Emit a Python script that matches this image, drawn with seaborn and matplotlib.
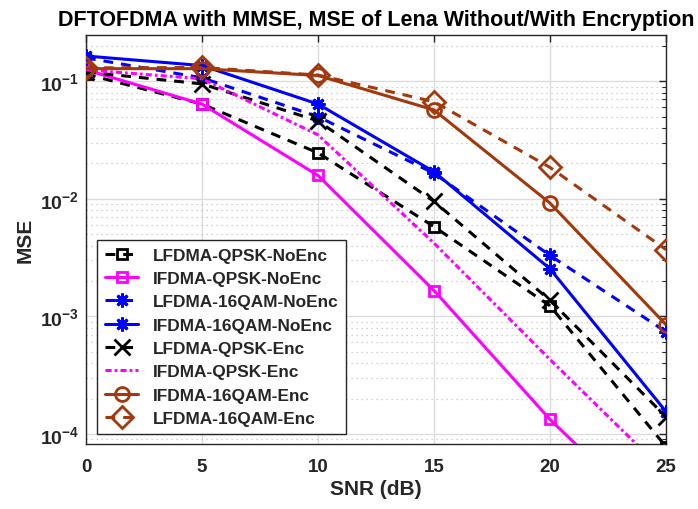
import numpy as np
import pandas as pd
import matplotlib
matplotlib.use("Agg")
import matplotlib.pyplot as plt
import seaborn as sns
from matplotlib.ticker import LogLocator, FixedLocator, NullFormatter, FuncFormatter

# ---------------- data ----------------
snr = [0, 5, 10, 15, 20, 25]
lf_qpsk_noenc = [0.115, 0.064, 0.0246, 0.0058, 0.00123, 7.8e-5]
if_qpsk_noenc = [0.125, 0.064, 0.0158, 0.00166, 1.33e-4, 1.5e-5]
lf_16qam_noenc = [0.158, 0.107, 0.050, 0.0165, 0.0033, 7.4e-4]
if_16qam_noenc = [0.164, 0.136, 0.064, 0.0170, 0.00254, 1.55e-4]
lf_qpsk_enc = [0.120, 0.095, 0.046, 0.0095, 0.00137, 1.4e-4]
if_qpsk_enc = [0.125, 0.105, 0.035, 0.0042, 4.3e-4, 4.65e-5]
if_16qam_enc = [0.128, 0.128, 0.112, 0.057, 0.0092, 8.5e-4]
lf_16qam_enc = [0.130, 0.131, 0.113, 0.067, 0.0185, 0.0037]

labels = ["LFDMA-QPSK-NoEnc", "IFDMA-QPSK-NoEnc", "LFDMA-16QAM-NoEnc",
          "IFDMA-16QAM-NoEnc", "LFDMA-QPSK-Enc", "IFDMA-QPSK-Enc",
          "IFDMA-16QAM-Enc", "LFDMA-16QAM-Enc"]
series = [lf_qpsk_noenc, if_qpsk_noenc, lf_16qam_noenc, if_16qam_noenc,
          lf_qpsk_enc, if_qpsk_enc, if_16qam_enc, lf_16qam_enc]

BROWN = "#a2380c"
styles = [
    dict(color="black", ls=(0, (3.2, 2.6)), marker="s", ms=7.5, mfc="none"),
    dict(color="#ff00ff", ls="-", marker="s", ms=7.5, mfc="none"),
    dict(color="#0000ff", ls=(0, (3.2, 2.6)), marker=(8, 2, 0), ms=10, mfc="none"),
    dict(color="#0000ff", ls="-", marker=(8, 2, 0), ms=10, mfc="none"),
    dict(color="black", ls=(0, (3.2, 2.6)), marker="x", ms=11, mfc="none"),
    dict(color="#ff00ff", ls=(0, (2.0, 1.0, 0.9, 1.0)), marker=None, ms=0, mfc="none"),
    dict(color=BROWN, ls="-", marker="o", ms=10, mfc="none"),
    dict(color=BROWN, ls=(0, (3.2, 2.6)), marker="D", ms=11, mfc="none"),
]

df = pd.DataFrame({"snr": np.tile(snr, len(labels)),
                   "mse": np.concatenate(series),
                   "label": np.repeat(labels, len(snr))})

sns.set_theme(style="white")
plt.rcParams["font.family"] = ["Liberation Sans", "DejaVu Sans"]
plt.rcParams["font.weight"] = "bold"
plt.rcParams["mathtext.fontset"] = "custom"
plt.rcParams["mathtext.rm"] = "Liberation Sans:bold"
plt.rcParams["mathtext.bf"] = "Liberation Sans:bold"
plt.rcParams["mathtext.it"] = "Liberation Sans:bold"
plt.rcParams["mathtext.default"] = "bf"

fig = plt.figure(figsize=(6.98, 5.10), dpi=100)
ax = fig.add_axes([86/698, 1 - 445.3/510, (666-86)/698, (445.3-35.7)/510])

for lab, st in zip(labels, styles):
    sub = df[df["label"] == lab]
    sns.lineplot(data=sub, x="snr", y="mse", ax=ax, color=st["color"],
                 linestyle=st["ls"], linewidth=2.2, marker=st["marker"],
                 markersize=st["ms"], markerfacecolor=st["mfc"],
                 markeredgecolor=st["color"], markeredgewidth=2.0,
                 label=lab, legend=False, zorder=3)

ax.set_yscale("log")
ax.set_xlim(0, 25)
ax.set_ylim(8.17e-5, 0.249)
ax.xaxis.set_major_locator(FixedLocator(snr))
ax.yaxis.set_major_locator(LogLocator(base=10, numticks=10))
ax.yaxis.set_minor_locator(LogLocator(base=10, subs=np.arange(2, 10), numticks=20))
ax.yaxis.set_minor_formatter(NullFormatter())
ax.yaxis.set_major_formatter(FuncFormatter(lambda v, p: r"$10^{%d}$" % int(round(np.log10(v)))))

ax.grid(True, which="major", color="#dcdcdc", linewidth=1.0, linestyle="-", zorder=0)
ax.grid(True, which="minor", axis="y", color="#c4c4c4", linewidth=0.9, linestyle=(0, (1, 3)), zorder=0)
ax.set_axisbelow(True)

for sp in ax.spines.values():
    sp.set_color("#262626")
    sp.set_linewidth(1.0)
ax.tick_params(axis="both", which="both", direction="in", top=True, right=True,
               colors="#262626", labelcolor="#262626")
ax.tick_params(axis="x", which="major", length=5, labelsize=13.5, width=1.0, pad=10)
ax.tick_params(axis="y", which="major", length=5, labelsize=14, width=1.0, pad=5)
ax.tick_params(axis="y", which="minor", length=3, width=0.8)
for t in ax.get_xticklabels() + ax.get_yticklabels():
    t.set_fontweight("bold")

ax.set_xlabel("SNR (dB)", fontsize=15, fontweight="bold", color="#262626", labelpad=3)
ax.set_ylabel("MSE", fontsize=15, fontweight="bold", color="#262626", labelpad=4)
ax.set_title("DFTOFDMA with MMSE, MSE of Lena Without/With Encryption",
             fontsize=15.5, fontweight="bold", color="black", pad=7)

leg = ax.legend(loc="lower left", bbox_to_anchor=(0.019, 0.026),
                frameon=True, fancybox=False, edgecolor="#262626",
                handlelength=1.95, handletextpad=0.85, labelspacing=0.48,
                borderpad=0.45, borderaxespad=0.0, prop={"weight": "bold", "size": 12.4})
leg.get_frame().set_linewidth(1.0)
leg.get_frame().set_facecolor("white")
leg.get_frame().set_alpha(1.0)

fig.savefig("out.png", dpi=100)
